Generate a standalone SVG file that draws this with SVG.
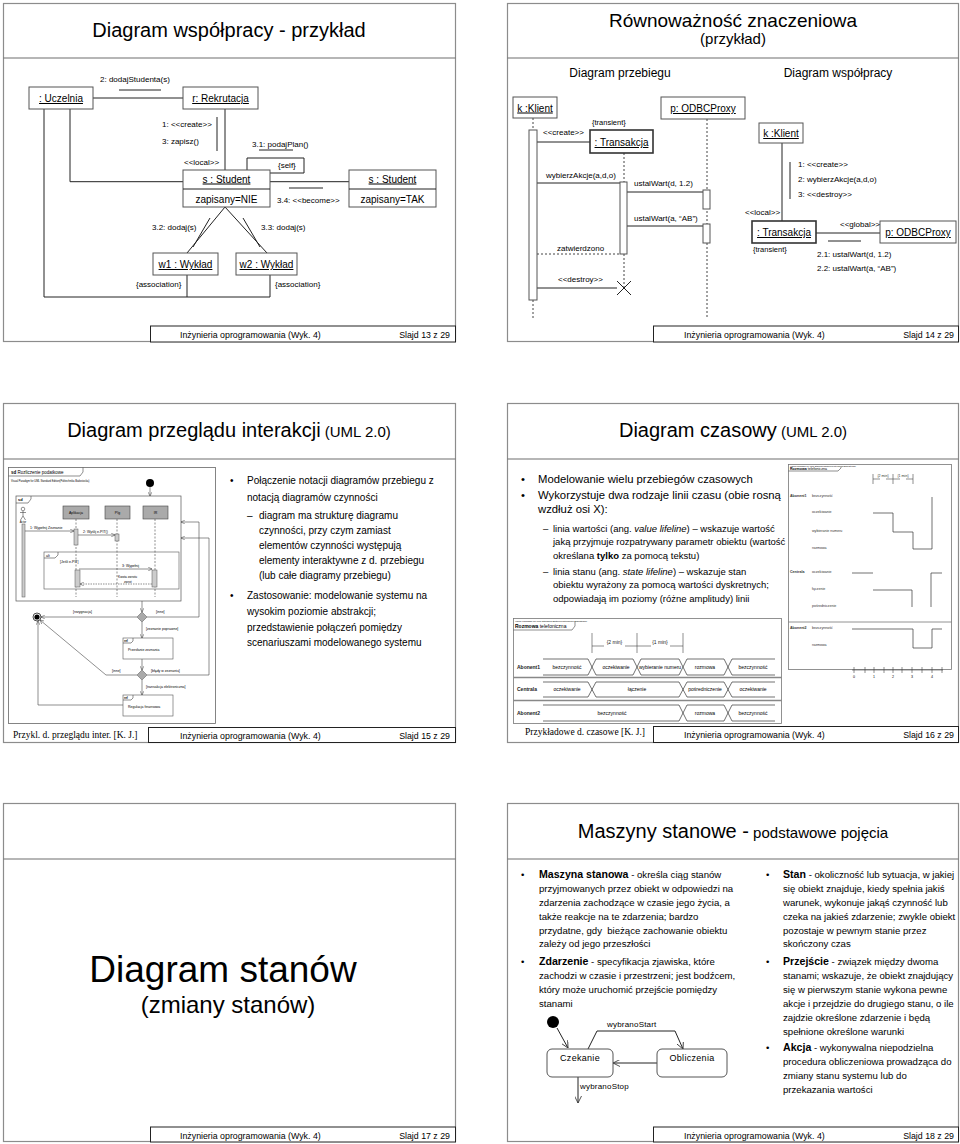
<svg xmlns="http://www.w3.org/2000/svg" width="960" height="1144" viewBox="0 0 960 1144">
<defs>
<style>
text{font-family:"Liberation Sans",Arial,sans-serif;fill:#000}
.frame{fill:#fff;stroke:#8c8c8c;stroke-width:1.2}
.sep{stroke:#6e6e6e;stroke-width:1.2}
.fbox{fill:#fff;stroke:#222;stroke-width:1}
.ft{font-size:8.8px}
.cap{font-family:"Liberation Serif","Times New Roman",serif;font-size:9.5px}
.t20{font-size:20px}
.node{fill:#fff;stroke:#555;stroke-width:1}
.dbl{fill:#fff;stroke:#333;stroke-width:1.6}
.nt{font-size:10px;text-decoration:underline}
.at{font-size:10px}
.lb{font-size:8px}
.ln{stroke:#222;fill:none;stroke-width:1}
.dash{stroke:#444;stroke-dasharray:2,2;fill:none}
.body{font-size:10px}
.b16{font-size:11.3px}
.sub{font-size:9.5px}
.tl{stroke:#333;fill:none;stroke-width:0.7}
.tx{font-size:3.6px;fill:#333}
.t5{font-size:5px;fill:#222}
.sm{stroke:#444;fill:none;stroke-width:0.6}
.st{fill:#fff;stroke:#555;stroke-width:1}
</style>
<marker id="ah" viewBox="0 0 10 10" refX="10" refY="5" markerWidth="7" markerHeight="7" orient="auto"><path d="M0,0 L10,5 L0,10" fill="none" stroke="#333" stroke-width="1.2"/></marker>
<marker id="ahs" viewBox="0 0 10 10" refX="10" refY="5" markerUnits="userSpaceOnUse" markerWidth="4" markerHeight="4" orient="auto"><path d="M0,0 L10,5 L0,10" fill="none" stroke="#333" stroke-width="1.2"/></marker>
</defs>
<rect width="960" height="1144" fill="#fff"/>

<!-- ================= SLIDE 13 ================= -->
<g id="slide13">
<rect class="frame" x="3.5" y="3.5" width="452" height="338"/>
<line class="sep" x1="3.5" y1="58" x2="455.5" y2="58"/>
<text x="229" y="37" text-anchor="middle" class="t20">Diagram współpracy - przykład</text>
<g id="s13-connectors" class="ln">
<path d="M93,98 H183"/>
<path d="M44,109 V297 H270 V275"/>
<path d="M187,275 V297"/>
<path d="M70,109 V181.7 H183"/>
<path d="M225,109 V170"/>
<path d="M247,170 V158 H304 V173 H270"/>
<path d="M270,181.7 H349"/>
<path d="M225,207 L187,253"/>
<path d="M225,207 L267,253"/>
<path d="M119,90 H161"/>
<path d="M217,117 V151"/>
<path d="M259,150 H293"/>
<path d="M289,188 H323"/>
<path d="M193,247 L210,218"/>
<path d="M243,218 L260,247"/>
</g>
<g id="n-uczelnia"><rect class="node" x="29" y="87" width="64" height="22"/><text class="nt" x="61" y="102" text-anchor="middle">: Uczelnia</text></g>
<g id="n-rekrutacja"><rect class="node" x="183" y="87" width="75" height="22"/><text class="nt" x="220.5" y="102" text-anchor="middle">r: Rekrutacja</text></g>
<g id="n-student1"><rect class="node" x="183" y="170" width="87" height="37"/><line class="ln" x1="183" y1="189" x2="270" y2="189" stroke="#555"/><text class="nt" x="226.5" y="182.5" text-anchor="middle">s : Student</text><text class="at" x="226.5" y="203" text-anchor="middle">zapisany=NIE</text></g>
<g id="n-student2"><rect class="node" x="349" y="170" width="87" height="37"/><line class="ln" x1="349" y1="189" x2="436" y2="189" stroke="#555"/><text class="nt" x="392.5" y="182.5" text-anchor="middle">s : Student</text><text class="at" x="392.5" y="203" text-anchor="middle">zapisany=TAK</text></g>
<g id="n-w1"><rect class="node" x="153" y="253" width="65" height="22"/><text class="nt" x="185.5" y="268" text-anchor="middle">w1 : Wykład</text></g>
<g id="n-w2"><rect class="node" x="236" y="253" width="61" height="22"/><text class="nt" x="266.5" y="268" text-anchor="middle">w2 : Wykład</text></g>
<g id="s13-labels" class="lb">
<text x="100" y="82">2: dodajStudenta(s)</text>
<text x="162" y="127">1: &lt;&lt;create&gt;&gt;</text>
<text x="162" y="144">3: zapisz()</text>
<text x="252" y="147">3.1: podajPlan()</text>
<text x="184" y="165">&lt;&lt;local&gt;&gt;</text>
<text x="278" y="168">{self}</text>
<text x="277" y="203">3.4: &lt;&lt;become&gt;&gt;</text>
<text x="152" y="230">3.2: dodaj(s)</text>
<text x="261" y="230">3.3: dodaj(s)</text>
<text x="136" y="287">{association}</text>
<text x="275" y="287">{association}</text>
</g>
<g id="s13-footer"><rect class="fbox" x="150.5" y="326" width="305" height="16"/><text class="ft" x="180" y="337.5">Inżynieria oprogramowania (Wyk. 4)</text><text class="ft" x="450" y="337.5" text-anchor="end">Slajd 13 z 29</text></g>
</g>

<!-- ================= SLIDE 14 ================= -->
<g id="slide14">
<rect class="frame" x="507.5" y="3.5" width="451" height="338"/>
<line class="sep" x1="507.5" y1="58" x2="958.5" y2="58"/>
<text x="733" y="27" text-anchor="middle" font-size="19">Równoważność znaczeniowa</text>
<text x="733" y="44" text-anchor="middle" font-size="15">(przykład)</text>
<text x="620" y="77" text-anchor="middle" font-size="12">Diagram przebiegu</text>
<text x="838" y="77" text-anchor="middle" font-size="12">Diagram współpracy</text>
<g id="s14-connectors">
<path class="dash" d="M533,118 V130 M533,300 V318 M624,153 V182 M624,254 V288 M707,119 V318"/>
<path class="ln" d="M537,142 H590 M537,183 H620 M627,192 H703 M627,226 H703 M537,288 H617"/>
<path class="dash" d="M537,254 H620"/>
<path class="ln" stroke-width="1.3" d="M617,281 L631,295 M631,281 L617,295"/>
<path class="ln" d="M782,143 V221 M790,162 V199 M816,233 H880 M828,241 H861"/>
</g>
<g id="n-klient-seq"><rect class="node" x="513" y="97" width="44" height="21"/><text class="nt" x="535" y="111.5" text-anchor="middle">k :Klient</text></g>
<rect class="node" x="529" y="130" width="8" height="170"/>
<g id="n-transakcja-seq"><rect class="dbl" x="590" y="130" width="63" height="23"/><text class="nt" x="621.5" y="146" text-anchor="middle">: Transakcja</text></g>
<rect class="node" x="620" y="182" width="7" height="72"/>
<g id="n-proxy-seq"><rect class="node" x="661" y="97" width="84" height="22"/><text class="nt" x="703" y="112" text-anchor="middle" font-size="10.5">p: ODBCProxy</text></g>
<rect class="node" x="703" y="190" width="7" height="19"/>
<rect class="node" x="703" y="224" width="7" height="19"/>
<g id="s14-seq-labels" class="lb">
<text x="543" y="135">&lt;&lt;create&gt;&gt;</text>
<text x="592" y="125" font-size="7.5">{transient}</text>
<text x="546" y="178">wybierzAkcje(a,d,o)</text>
<text x="634" y="186">ustalWart(d, 1.2)</text>
<text x="634" y="221">ustalWart(a, “AB”)</text>
<text x="557" y="251">zatwierdzono</text>
<text x="558" y="282">&lt;&lt;destroy&gt;&gt;</text>
</g>
<g id="n-klient-col"><rect class="node" x="759" y="123" width="44" height="20"/><text class="nt" x="781" y="137" text-anchor="middle">k :Klient</text></g>
<g id="n-transakcja-col"><rect class="dbl" x="752" y="221" width="64" height="22"/><text class="nt" x="784" y="236" text-anchor="middle">: Transakcja</text></g>
<g id="n-proxy-col"><rect class="node" x="880" y="221" width="76" height="22"/><text class="nt" x="918" y="236" text-anchor="middle" font-size="10.5">p: ODBCProxy</text></g>
<g id="s14-col-labels" class="lb">
<text x="798" y="167">1: &lt;&lt;create&gt;&gt;</text>
<text x="798" y="182">2: wybierzAkcje(a,d,o)</text>
<text x="798" y="197">3: &lt;&lt;destroy&gt;&gt;</text>
<text x="745" y="215">&lt;&lt;local&gt;&gt;</text>
<text x="753" y="252" font-size="7.5">{transient}</text>
<text x="840" y="227">&lt;&lt;global&gt;&gt;</text>
<text x="817" y="257">2.1: ustalWart(d, 1.2)</text>
<text x="817" y="271">2.2: ustalWart(a, “AB”)</text>
</g>
<g id="s14-footer"><rect class="fbox" x="653.5" y="326" width="305" height="16"/><text class="ft" x="684" y="337.5">Inżynieria oprogramowania (Wyk. 4)</text><text class="ft" x="954" y="337.5" text-anchor="end">Slajd 14 z 29</text></g>
</g>

<!-- ================= SLIDE 15 ================= -->
<g id="slide15">
<rect class="frame" x="3.5" y="403.5" width="452" height="339"/>
<line class="sep" x1="3.5" y1="459" x2="455.5" y2="459"/>
<text x="229" y="437" text-anchor="middle"><tspan font-size="20">Diagram przeglądu interakcji</tspan><tspan font-size="15"> (UML 2.0)</tspan></text>
<g id="s15-diagram">
<rect x="8.5" y="467.5" width="207" height="256" fill="#fff" stroke="#666" stroke-width="0.8"/>
<path class="sm" d="M8.5,476 H80 L83,472 V467.5"/>
<text x="11" y="474" font-size="4.5"><tspan font-weight="bold">sd</tspan> Rozliczenie podatkowe</text>
<text x="11" y="482" font-size="2.6" fill="#999">Visual Paradigm for UML Standard Edition(Politechnika Białostocka)</text>
<circle cx="150" cy="483" r="4" fill="#000"/>
<path class="sm" d="M150,487 V496" marker-end="url(#ahs)"/>
<rect x="16" y="496" width="165" height="105" fill="none" stroke="#555" stroke-width="0.7"/>
<path class="sm" d="M16,503 H28 L31,499 V496"/>
<text x="18" y="501" font-size="4" font-weight="bold">sd</text>
<g id="s15-actor" class="sm"><circle cx="23" cy="509" r="1.8"/><path d="M23,511 V516 M20,512.5 H26 M23,516 L20.5,520 M23,516 L25.5,520"/></g>
<text x="23" y="523" font-size="2.8" text-anchor="middle">Actor</text>
<rect x="22" y="524" width="3" height="73" fill="#ccc" stroke="#555" stroke-width="0.5"/>
<rect x="63" y="506" width="26" height="13" fill="#aaa" stroke="#444" stroke-width="0.6"/><text x="76" y="514" font-size="3.5" text-anchor="middle">Aplikacja</text>
<rect x="105" y="506" width="25" height="13" fill="#aaa" stroke="#444" stroke-width="0.6"/><text x="117.5" y="514" font-size="3.5" text-anchor="middle">PIg</text>
<rect x="143" y="506" width="25" height="13" fill="#aaa" stroke="#444" stroke-width="0.6"/><text x="155.5" y="514" font-size="3.5" text-anchor="middle">IR</text>
<path class="sm" stroke-dasharray="2,1.5" d="M76,519 V597 M117,519 V597 M155,519 V597"/>
<path class="sm" d="M25,531 H74" marker-end="url(#ahs)"/>
<text x="30" y="529" font-size="3.5">1: Wypełnij Zeznanie</text>
<rect x="74" y="529" width="4" height="16" fill="#ccc" stroke="#555" stroke-width="0.5"/>
<path class="sm" d="M78,535 H115" marker-end="url(#ahs)"/>
<text x="83" y="533" font-size="3.5">2: Wyślij e-PIT()</text>
<rect x="115" y="534" width="4" height="7" fill="#ccc" stroke="#555" stroke-width="0.5"/>
<rect x="44" y="552" width="135" height="37" fill="none" stroke="#555" stroke-width="0.6"/>
<path class="sm" d="M44,558 H55 L58,555 V552"/>
<text x="46" y="557" font-size="3.5">alt</text>
<text x="60" y="563" font-size="3.5">[Jeśli e-PIT]</text>
<path class="sm" d="M79,569 H152" marker-end="url(#ahs)"/>
<text x="122" y="567" font-size="3.5">3: Wypełnij</text>
<rect x="75" y="570" width="5" height="17" fill="#ccc" stroke="#555" stroke-width="0.5"/>
<rect x="152" y="570" width="5" height="17" fill="#ccc" stroke="#555" stroke-width="0.5"/>
<path class="sm" stroke-dasharray="1.5,1" d="M152,584 H80" marker-end="url(#ahs)"/>
<text x="118" y="578" font-size="3.2">Kwota zwrotu</text>
<text x="124" y="583" font-size="3.2">zwrot</text>
<g id="s15-flow" class="sm">
<path d="M142,601 V612" marker-end="url(#ahs)"/>
<path d="M137,617 H41" marker-end="url(#ahs)"/>
<path d="M147,617 H199 V522 H181" marker-end="url(#ahs)"/>
<path d="M142,622 V638" marker-end="url(#ahs)"/>
<path d="M142,659 V670" marker-end="url(#ahs)"/>
<path d="M137,675 H106 L40,620" marker-end="url(#ahs)"/>
<path d="M147,675 H209 V538 H181" marker-end="url(#ahs)"/>
<path d="M142,680 V695" marker-end="url(#ahs)"/>
<path d="M123,705 H38 V621" marker-end="url(#ahs)"/>
</g>
<path d="M142,612 L147,617 L142,622 L137,617 Z" fill="#aaa" stroke="#555" stroke-width="0.5"/>
<path d="M142,670 L147,675 L142,680 L137,675 Z" fill="#aaa" stroke="#555" stroke-width="0.5"/>
<circle cx="37" cy="617" r="4" fill="#fff" stroke="#222" stroke-width="0.8"/><circle cx="37" cy="617" r="2.6" fill="#000"/>
<rect x="123" y="638" width="50" height="21" fill="#fff" stroke="#555" stroke-width="0.6"/>
<path class="sm" d="M123,643 H131 L133,641 V638"/><text x="124" y="642" font-size="3" font-weight="bold">ref</text>
<text x="128" y="651" font-size="3.5">Przesłanie zeznania</text>
<rect x="123" y="695" width="50" height="21" fill="#fff" stroke="#555" stroke-width="0.6"/>
<path class="sm" d="M123,700 H131 L133,698 V695"/><text x="124" y="699" font-size="3" font-weight="bold">ref</text>
<text x="128" y="708" font-size="3.5">Regulacja finansowa</text>
<g font-size="3.5">
<text x="73" y="613">[rezygnacja]</text>
<text x="156" y="613">[inne]</text>
<text x="146" y="630">[zeznanie poprawne]</text>
<text x="112" y="672">[inne]</text>
<text x="151" y="672">[błędy w zeznaniu]</text>
<text x="146" y="688">[transakcja elektroniczna]</text>
</g>
</g>
<g id="s15-text">
<text class="body" x="230" y="484">•</text>
<text class="body" x="247" y="484">Połączenie notacji diagramów przebiegu z</text>
<text class="body" x="247" y="501">notacją diagramów czynności</text>
<text class="body" x="247" y="519">–</text>
<text class="body" x="259" y="519">diagram ma strukturę diagramu</text>
<text class="body" x="259" y="534">czynności, przy czym zamiast</text>
<text class="body" x="259" y="549">elementów czynności występują</text>
<text class="body" x="259" y="564">elementy interaktywne z d. przebiegu</text>
<text class="body" x="259" y="579">(lub całe diagramy przebiegu)</text>
<text class="body" x="230" y="599">•</text>
<text class="body" x="247" y="599">Zastosowanie: modelowanie systemu na</text>
<text class="body" x="247" y="615">wysokim poziomie abstrakcji;</text>
<text class="body" x="247" y="631">przedstawienie połączeń pomiędzy</text>
<text class="body" x="247" y="646">scenariuszami modelowanego systemu</text>
</g>
<g id="s15-footer"><text class="cap" x="13" y="738">Przykl. d. przeglądu inter. [K. J.]</text><rect class="fbox" x="148.5" y="727.5" width="307" height="15"/><text class="ft" x="180" y="738.5">Inżynieria oprogramowania (Wyk. 4)</text><text class="ft" x="450" y="738.5" text-anchor="end">Slajd 15 z 29</text></g>
</g>

<!-- ================= SLIDE 16 ================= -->
<g id="slide16">
<rect class="frame" x="507.5" y="403.5" width="451" height="339"/>
<line class="sep" x1="507.5" y1="459" x2="958.5" y2="459"/>
<text x="733" y="437" text-anchor="middle"><tspan font-size="20">Diagram czasowy</tspan><tspan font-size="15"> (UML 2.0)</tspan></text>
<g id="s16-text">
<text class="b16" x="521" y="483">•</text>
<text class="b16" x="538" y="483">Modelowanie wielu przebiegów czasowych</text>
<text class="b16" x="521" y="499">•</text>
<text class="b16" x="538" y="499">Wykorzystuje dwa rodzaje linii czasu (obie rosną</text>
<text class="b16" x="538" y="513">wzdłuż osi X):</text>
<text class="sub" x="543" y="532">–</text>
<text class="sub" x="553" y="532">linia wartości (ang. <tspan font-style="italic">value lifeline</tspan>) – wskazuje wartość</text>
<text class="sub" x="553" y="545">jaką przyjmuje rozpatrywany parametr obiektu (wartość</text>
<text class="sub" x="553" y="559">określana <tspan font-weight="bold">tylko</tspan> za pomocą tekstu)</text>
<text class="sub" x="543" y="575">–</text>
<text class="sub" x="553" y="575">linia stanu (ang. <tspan font-style="italic">state lifeline</tspan>) – wskazuje stan</text>
<text class="sub" x="553" y="588">obiektu wyrażony za pomocą wartości dyskretnych;</text>
<text class="sub" x="553" y="602">odpowiadają im poziomy (różne amplitudy) linii</text>
</g>
<g id="s16-state-timing">
<rect x="788.5" y="464.5" width="163" height="205" fill="#fff" stroke="#777" stroke-width="0.8"/>
<text x="790" y="466.6" font-size="2.2" fill="#999">Visual Paradigm for UML Standard Edition(Politechnika Białostocka)</text>
<path class="sm" d="M788.5,471 H838 L841,468 V467"/>
<text x="790" y="470" font-size="3.6"><tspan font-weight="bold">Rozmowa</tspan> telefoniczna</text>
<path class="sm" d="M873,474 V484 M893,474 V484 M913,474 V484 M873,479 H880 M886,479 H893 M893,479 H900 M906,479 H913"/>
<text class="tx" x="883" y="477" text-anchor="middle" font-size="3">{2 min}</text>
<text class="tx" x="903" y="477" text-anchor="middle" font-size="3">{1 min}</text>
<text class="tx" x="790" y="497" font-weight="bold">Abonent1</text>
<text class="tx" x="812" y="497">bezczynność</text>
<text class="tx" x="812" y="513">oczekiwanie</text>
<text class="tx" x="812" y="532">wybieranie numeru</text>
<text class="tx" x="812" y="549">rozmowa</text>
<path class="tl" d="M873,513 H893 V532 H913 V549 H932 V497"/>
<text class="tx" x="790" y="573" font-weight="bold">Centrala</text>
<text class="tx" x="812" y="573">oczekiwanie</text>
<text class="tx" x="812" y="590">łączenie</text>
<text class="tx" x="812" y="607">pośredniczenie</text>
<path class="tl" d="M852,573 H873 M873,590 H912 V607 M931,607 V573 H942"/>
<line x1="788.5" y1="622" x2="951.5" y2="622" stroke="#777" stroke-width="0.8"/>
<text class="tx" x="790" y="629" font-weight="bold">Abonent2</text>
<text class="tx" x="812" y="629">bezczynność</text>
<text class="tx" x="812" y="646">rozmowa</text>
<path class="tl" d="M852,629 H913 V648 H932 V629 H942"/>
<path class="sm" d="M852,670 H943 M854,667 V673 M865,667 V673 M874,667 V673 M884,667 V673 M893,667 V673 M902,667 V673 M912,667 V673 M922,667 V673 M932,667 V673 M942,667 V673"/>
<g class="tx" font-size="3" text-anchor="middle"><text x="854" y="678">0</text><text x="874" y="678">1</text><text x="893" y="678">2</text><text x="912" y="678">3</text><text x="932" y="678">4</text></g>
</g>
<g id="s16-value-timing">
<rect x="513.5" y="618.5" width="268" height="105" fill="#fff" stroke="#777" stroke-width="0.8"/>
<text x="515" y="621.5" font-size="2.4" fill="#999">Visual Paradigm for UML Standard Edition(Politechnika Białostocka)</text>
<path class="sm" d="M513.5,630 H572 L575,626 V622"/>
<text x="515" y="628" font-size="5"><tspan font-weight="bold">Rozmowa</tspan> telefoniczna</text>
<path class="sm" d="M592,633 V653 M637,633 V653 M683,633 V653 M592,646 H604 M625,646 H637 M637,646 H651 M670,646 H683"/>
<text class="t5" x="614.5" y="644" text-anchor="middle" font-size="4">{2 min}</text>
<text class="t5" x="660" y="644" text-anchor="middle" font-size="4">{1 min}</text>
<text class="t5" x="517" y="669" font-weight="bold">Abonent1</text>
<path class="tl" d="M543,659 H588 L596,675 H633 L641,659 H679 L687,675 H724 L732,659 H775 M543,675 H588 L596,659 H633 L641,675 H679 L687,659 H724 L732,675 H775"/>
<g class="t5" text-anchor="middle"><text x="567" y="669">bezczynność</text><text x="616" y="669">oczekiwanie</text><text x="660" y="669">wybieranie numeru</text><text x="705" y="669">rozmowa</text><text x="753" y="669">bezczynność</text></g>
<line x1="513.5" y1="677.5" x2="781.5" y2="677.5" stroke="#888" stroke-width="1.4"/>
<text class="t5" x="517" y="691" font-weight="bold">Centrala</text>
<path class="tl" d="M543,682 H588 L596,697 H679 L687,682 H724 L732,697 H775 M543,697 H588 L596,682 H679 L687,697 H724 L732,682 H775"/>
<g class="t5" text-anchor="middle"><text x="567" y="691">oczekiwanie</text><text x="637" y="691">łączenie</text><text x="705" y="691">pośredniczenie</text><text x="753" y="691">oczekiwanie</text></g>
<line x1="513.5" y1="700.5" x2="781.5" y2="700.5" stroke="#888" stroke-width="1.4"/>
<text class="t5" x="517" y="715" font-weight="bold">Abonent2</text>
<path class="tl" d="M543,705 H679 L687,721 H724 L732,705 H775 M543,721 H679 L687,705 H724 L732,721 H775"/>
<g class="t5" text-anchor="middle"><text x="612" y="715">bezczynność</text><text x="705" y="715">rozmowa</text><text x="753" y="715">bezczynność</text></g>
</g>
<g id="s16-footer"><text class="cap" x="525" y="735">Przykładowe d. czasowe [K. J.]</text><rect class="fbox" x="653.5" y="726.5" width="305" height="16"/><text class="ft" x="684" y="738">Inżynieria oprogramowania (Wyk. 4)</text><text class="ft" x="954" y="738" text-anchor="end">Slajd 16 z 29</text></g>
</g>

<!-- ================= SLIDE 17 ================= -->
<g id="slide17">
<rect class="frame" x="3.5" y="803.5" width="452" height="338"/>
<line class="sep" x1="3.5" y1="859" x2="455.5" y2="859"/>
<text x="223" y="982" text-anchor="middle" font-size="37">Diagram stanów</text>
<text x="228" y="1013" text-anchor="middle" font-size="24">(zmiany stanów)</text>
<g id="s17-footer"><rect class="fbox" x="150.5" y="1127" width="305" height="15"/><text class="ft" x="180" y="1138.5">Inżynieria oprogramowania (Wyk. 4)</text><text class="ft" x="450" y="1138.5" text-anchor="end">Slajd 17 z 29</text></g>
</g>

<!-- ================= SLIDE 18 ================= -->
<g id="slide18">
<rect class="frame" x="507.5" y="803.5" width="451" height="338"/>
<line class="sep" x1="507.5" y1="859" x2="958.5" y2="859"/>
<text x="733" y="838" text-anchor="middle"><tspan font-size="20">Maszyny stanowe -</tspan><tspan font-size="15"> podstawowe pojęcia</tspan></text>
<g id="s18-left" font-size="9.6">
<text x="521" y="878">•</text>
<text x="539" y="878"><tspan font-weight="bold" font-size="10.6">Maszyna stanowa</tspan> - określa ciąg stanów</text>
<text x="539" y="892">przyjmowanych przez obiekt w odpowiedzi na</text>
<text x="539" y="906">zdarzenia zachodzące w czasie jego życia, a</text>
<text x="539" y="920">także reakcje na te zdarzenia; bardzo</text>
<text x="539" y="934">przydatne, gdy&#160; bieżące zachowanie obiektu</text>
<text x="539" y="947">zależy od jego przeszłości</text>
<text x="521" y="965">•</text>
<text x="539" y="965"><tspan font-weight="bold" font-size="10.6">Zdarzenie</tspan> - specyfikacja zjawiska, które</text>
<text x="539" y="979">zachodzi w czasie i przestrzeni; jest bodźcem,</text>
<text x="539" y="993">który może uruchomić przejście pomiędzy</text>
<text x="539" y="1007">stanami</text>
</g>
<g id="s18-right" font-size="9.6">
<text x="766" y="878">•</text>
<text x="783" y="878"><tspan font-weight="bold" font-size="10.6">Stan</tspan> - okoliczność lub sytuacja, w jakiej</text>
<text x="783" y="892">się obiekt znajduje, kiedy spełnia jakiś</text>
<text x="783" y="906">warunek, wykonuje jakąś czynność lub</text>
<text x="783" y="920">czeka na jakieś zdarzenie; zwykle obiekt</text>
<text x="783" y="934">pozostaje w pewnym stanie przez</text>
<text x="783" y="947">skończony czas</text>
<text x="766" y="965">•</text>
<text x="783" y="965"><tspan font-weight="bold" font-size="10.6">Przejście</tspan> - związek między dwoma</text>
<text x="783" y="979">stanami; wskazuje, że obiekt znajdujący</text>
<text x="783" y="993">się w pierwszym stanie wykona pewne</text>
<text x="783" y="1007">akcje i przejdzie do drugiego stanu, o ile</text>
<text x="783" y="1021">zajdzie określone zdarzenie i będą</text>
<text x="783" y="1035">spełnione określone warunki</text>
<text x="766" y="1051">•</text>
<text x="783" y="1051"><tspan font-weight="bold" font-size="10.6">Akcja</tspan> - wykonywalna niepodzielna</text>
<text x="783" y="1065">procedura obliczeniowa prowadząca do</text>
<text x="783" y="1079">zmiany stanu systemu lub do</text>
<text x="783" y="1093">przekazania wartości</text>
</g>
<g id="s18-connectors" class="ln" stroke="#444">
<path d="M557,1028 L568,1048" marker-end="url(#ah)"/>
<path d="M588,1049 L597,1031 H675 L683,1049" marker-end="url(#ah)"/>
<path d="M657,1063 H613" marker-end="url(#ah)"/>
<path d="M578,1077 V1103" marker-end="url(#ah)"/>
</g>
<g id="n-start"><circle cx="553" cy="1022" r="6" fill="#000"/></g>
<g id="n-czekanie"><rect class="st" x="547" y="1049" width="66" height="28" rx="5"/><text x="580" y="1061" text-anchor="middle" font-size="9" letter-spacing="0.3">Czekanie</text></g>
<g id="n-obliczenia"><rect class="st" x="657" y="1049" width="70" height="28" rx="5"/><text x="692" y="1061" text-anchor="middle" font-size="9" letter-spacing="0.3">Obliczenia</text></g>
<text x="607" y="1027" font-size="8" letter-spacing="0.2">wybranoStart</text>
<text x="580" y="1089" font-size="8" letter-spacing="0.2">wybranoStop</text>
<g id="s18-footer"><rect class="fbox" x="653.5" y="1127" width="305" height="15"/><text class="ft" x="684" y="1138.5">Inżynieria oprogramowania (Wyk. 4)</text><text class="ft" x="954" y="1138.5" text-anchor="end">Slajd 18 z 29</text></g>
</g>
</svg>
